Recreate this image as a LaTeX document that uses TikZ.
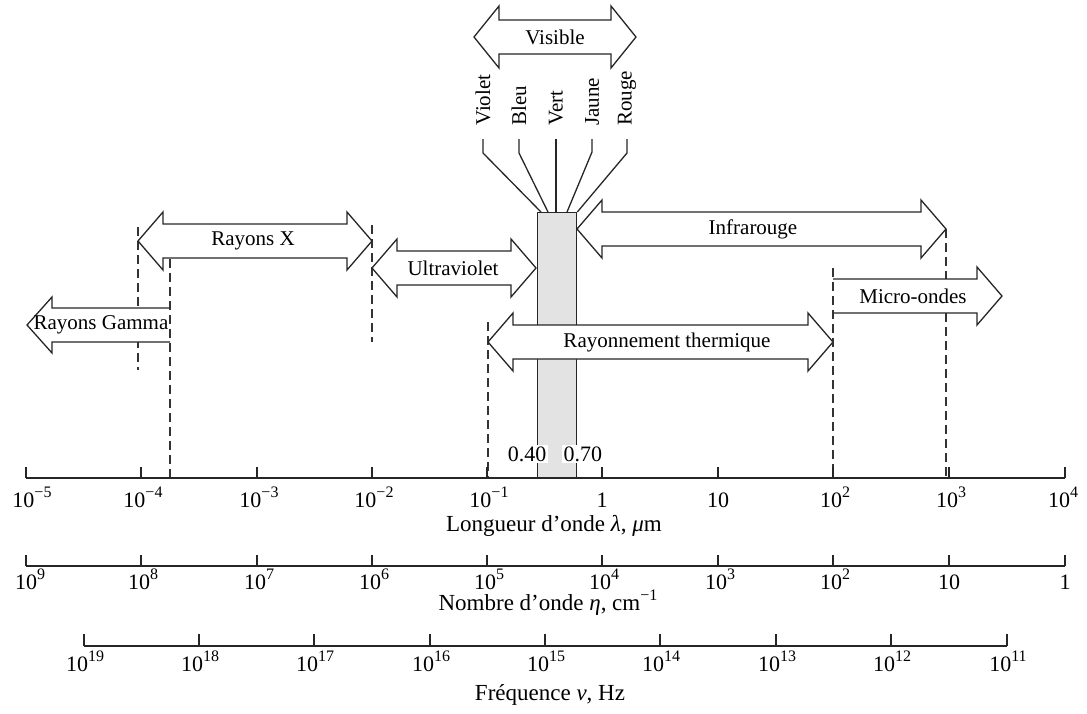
\documentclass[tikz,border=0pt]{standalone}
\usepackage{fontspec}
\setmainfont{Liberation Serif}
\usetikzlibrary{calc}
\newcommand\sups[1]{\raisebox{0.42em}{\fontsize{16}{16}\selectfont #1}}
\newcommand\tenp[1]{10\sups{#1}}
\tikzset{
  lbl/.style={font=\fontsize{21}{25}\selectfont, inner sep=1pt},
  ticklbl/.style={font=\fontsize{22}{26}\selectfont, anchor=base, inner sep=0pt},
  axlbl/.style={font=\fontsize{23}{27}\selectfont, anchor=base, inner sep=0pt},
  arr/.style={draw=black!85, fill=white, line width=1.3pt, line join=miter},
  dsh/.style={draw=black!80, line width=1.3pt, dash pattern=on 9pt off 5pt},
  axisline/.style={line width=1.6pt, draw=black!85},
  conn/.style={line width=1.3pt, draw=black!85},
  bandbox/.style={draw=black!85, line width=1.3pt, fill=black!11, minimum width=39pt, minimum height=266pt, inner sep=0pt}
}
\newcommand\dbl[3]{%
  \draw[arr] (#1,#3) -- (#1+25,#3-29) -- (#1+25,#3-17) -- (#2-25,#3-17) -- (#2-25,#3-29)
   -- (#2,#3) -- (#2-25,#3+29) -- (#2-25,#3+17) -- (#1+25,#3+17) -- (#1+25,#3+29) -- cycle;}
\begin{document}
\begin{tikzpicture}[x=1pt,y=-1pt]
\useasboundingbox (0,0) rectangle (1087,713);

% visible band
\node[bandbox, anchor=north west] (band) at (537,212) {};

% dashed guide lines (behind arrows)
\draw[dsh] (138,227) -- (138,370);
\draw[dsh] (372,225) -- (372,342);
\draw[dsh] (488,322) -- (488,478);
\draw[dsh] (946,229) -- (946,478);

% double arrows
\draw[arr] (474,37) -- (499,6) -- (499,20) -- (611,20) -- (611,6) -- (636,37) -- (611,68) -- (611,54) -- (499,54) -- (499,68) -- cycle;
\dbl{138}{372}{241}
\dbl{372}{536}{268}
\dbl{577}{946}{229}
\dbl{488}{833}{342}

% single arrows
\draw[arr] (170,342) -- (52,342) -- (52,353) -- (27,325) -- (52,297) -- (52,308) -- (170,308);
\draw[arr] (833,279) -- (977,279) -- (977,267) -- (1002,296) -- (977,325) -- (977,313) -- (833,313);

% dashed lines on flat ends
\draw[dsh] (170,259) -- (170,478);
\draw[dsh] (833,268) -- (833,478);

% arrow labels
\node[lbl] (tvis) at (555,37) {Visible};
\node[lbl] (tx) at (253,241) {Rayons X};
\node[lbl] (tuv) at (453,268) {Ultraviolet};
\node[lbl] (tir) at (753,229) {Infrarouge};
\node[lbl] (tth) at (667,342) {Rayonnement thermique};
\node[lbl] (tgam) at (101,325) {Rayons Gamma};
\node[lbl] (tmw) at (913,296) {Micro-ondes};

% colour labels
\node[lbl, rotate=90, anchor=west] (violet) at (483,127) {Violet};
\node[lbl, rotate=90, anchor=west] (bleu) at (519,127) {Bleu};
\node[lbl, rotate=90, anchor=west] (vert) at (556,127) {Vert};
\node[lbl, rotate=90, anchor=west] (jaune) at (592,127) {Jaune};
\node[lbl, rotate=90, anchor=west] (rouge) at (627,127) {Rouge};

\draw[conn] ([yshift=-12pt]violet.west) -- ++(0,14) -- ($(band.north west)+(4,0)$);
\draw[conn] ([yshift=-12pt]bleu.west) -- ++(0,14) -- ($(band.north west)+(11,0)$);
\draw[conn] ([yshift=-12pt]vert.west) -- ($(band.north west)+(19,0)$);
\draw[conn] ([yshift=-12pt]jaune.west) -- ++(0,13) -- ($(band.north west)+(30,0)$);
\draw[conn] ([yshift=-12pt]rouge.west) -- ++(0,14) -- (band.north east);

% band limit labels
\node[ticklbl, anchor=base east, fill=white, inner sep=1.5pt] (l40) at (548,461) {0.40};
\node[ticklbl, anchor=base west, fill=white, inner sep=1.5pt] (l70) at (562,461) {0.70};

% wavelength axis
\draw[axisline] (26,478) -- (1065,478);
\foreach \x in {26,141,257,372,487,602,718,833,949,1065}
  \draw[axisline] (\x,467) -- (\x,478);
\node[ticklbl] (w1) at (32,507) {\tenp{−5}};
\node[ticklbl] (w2) at (143,507) {\tenp{−4}};
\node[ticklbl] (w3) at (259,507) {\tenp{−3}};
\node[ticklbl] (w4) at (374,507) {\tenp{−2}};
\node[ticklbl] (w5) at (489,507) {\tenp{−1}};
\node[ticklbl] (w6) at (602,507) {1};
\node[ticklbl] (w7) at (718,507) {10};
\node[ticklbl] (w8) at (835,507) {\tenp{2}};
\node[ticklbl] (w9) at (951,507) {\tenp{3}};
\node[ticklbl] (w10) at (1063,507) {\tenp{4}};
\node[axlbl] (wlab) at (554,531) {Longueur d'onde \textit{λ}, \textit{μ}m};

% wavenumber axis
\draw[axisline] (26,566) -- (1065,566);
\foreach \x in {26,141,257,372,487,602,718,833,949,1065}
  \draw[axisline] (\x,555) -- (\x,566);
\node[ticklbl] (n1) at (30,589) {\tenp{9}};
\node[ticklbl] (n2) at (143,589) {\tenp{8}};
\node[ticklbl] (n3) at (259,589) {\tenp{7}};
\node[ticklbl] (n4) at (374,589) {\tenp{6}};
\node[ticklbl] (n5) at (489,589) {\tenp{5}};
\node[ticklbl] (n6) at (604,589) {\tenp{4}};
\node[ticklbl] (n7) at (720,589) {\tenp{3}};
\node[ticklbl] (n8) at (835,589) {\tenp{2}};
\node[ticklbl] (n9) at (949,589) {10};
\node[ticklbl] (n10) at (1065,589) {1};
\node[axlbl] (nlab) at (548,610) {Nombre d'onde \textit{η}, cm\sups{−1}};

% frequency axis
\draw[axisline] (84,646) -- (1007,646);
\foreach \x in {84,199,314,430,545,660,776,891,1007}
  \draw[axisline] (\x,634) -- (\x,646);
\node[ticklbl] (f1) at (85,671) {\tenp{19}};
\node[ticklbl] (f2) at (200,671) {\tenp{18}};
\node[ticklbl] (f3) at (315,671) {\tenp{17}};
\node[ticklbl] (f4) at (431,671) {\tenp{16}};
\node[ticklbl] (f5) at (546,671) {\tenp{15}};
\node[ticklbl] (f6) at (661,671) {\tenp{14}};
\node[ticklbl] (f7) at (777,671) {\tenp{13}};
\node[ticklbl] (f8) at (892,671) {\tenp{12}};
\node[ticklbl] (f9) at (1008,671) {\tenp{11}};
\node[axlbl] (flab) at (550,700) {Fréquence \textit{ν}, Hz};
\end{tikzpicture}
\end{document}
